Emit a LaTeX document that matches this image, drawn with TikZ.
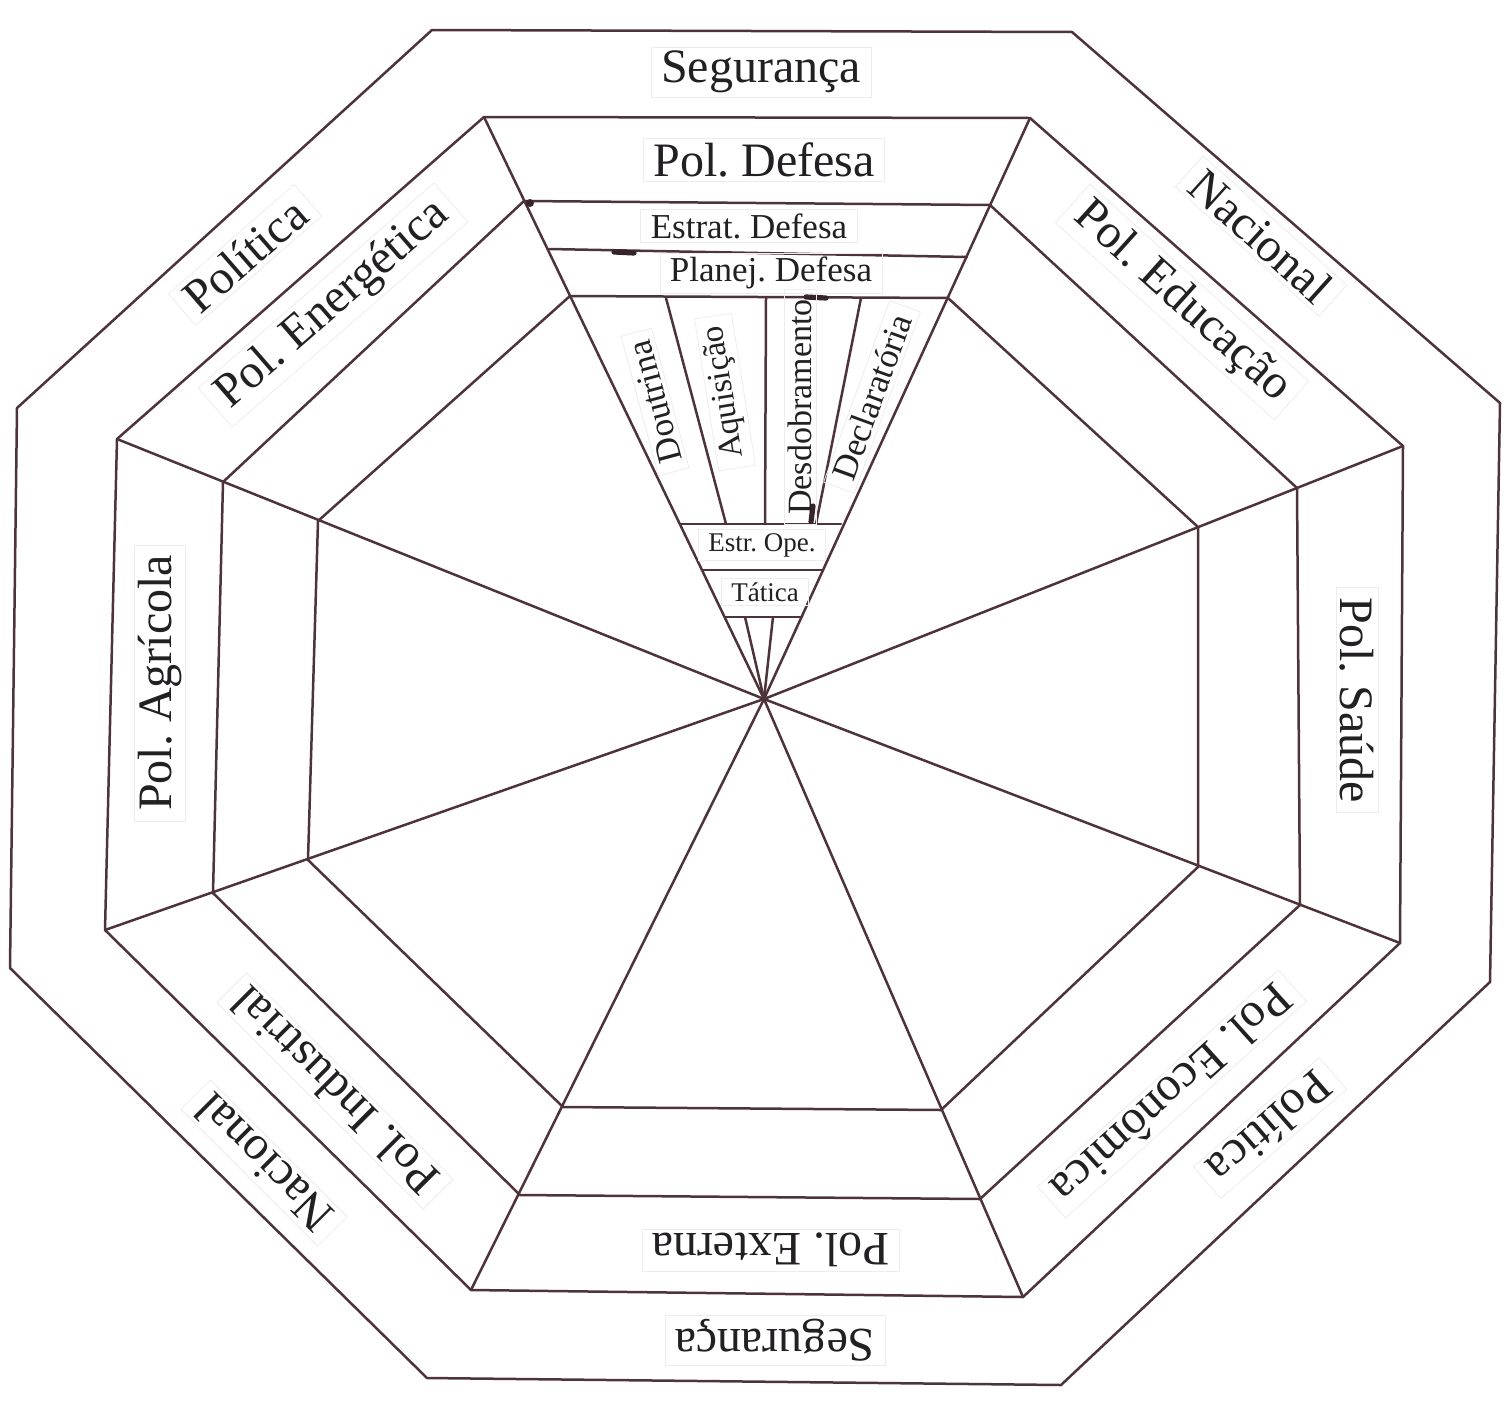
\documentclass[tikz,border=0pt]{standalone}
\usepackage{fontspec}
\setmainfont{Liberation Serif}
\frenchspacing
\usetikzlibrary{calc}
\definecolor{ink}{RGB}{78,52,58}
\definecolor{txt}{RGB}{34,32,34}
\tikzset{
  edge/.style={draw=ink, line width=1.25pt, line join=round, line cap=round},
  penmark/.style={draw=ink!70!black, line width=2.6pt, line cap=round},
  lab/.style={text=txt, draw=black!7, line width=0.4pt, inner xsep=5pt, inner ysep=2pt},
  big/.style={lab, font=\fontsize{24}{28}\selectfont},
  mid/.style={lab, font=\fontsize{17.5}{20}\selectfont},
  sml/.style={lab, font=\fontsize{13.5}{16}\selectfont},
}
\begin{document}
\begin{tikzpicture}[x=0.5pt,y=-0.5pt]
\fill[white] (0,0) rectangle (1510,1403);
\useasboundingbox (0,0) rectangle (1510,1403);
% centre
\coordinate (C) at (764,699);
% outer octagon
\coordinate (O1) at (432,30);   \coordinate (O2) at (1072,32);
\coordinate (O3) at (1500,403); \coordinate (O4) at (1490,982);
\coordinate (O5) at (1061,1385);\coordinate (O6) at (427,1378);
\coordinate (O7) at (10,968);   \coordinate (O8) at (17,408);
% ring 2
\coordinate (A1) at (484,117);  \coordinate (A2) at (1030,118);
\coordinate (A3) at (1403,446); \coordinate (A4) at (1400,943);
\coordinate (A5) at (1023,1297);\coordinate (A6) at (471,1290);
\coordinate (A7) at (105,930);  \coordinate (A8) at (117,439);
% ring 3
\coordinate (B1) at (524,201);  \coordinate (B2) at (990,205);
\coordinate (B3) at (1297,488); \coordinate (B4) at (1300,905);
\coordinate (B5) at (980,1199); \coordinate (B6) at (520,1195);
\coordinate (B7) at (213,893);  \coordinate (B8) at (223,482);
% ring 4
\coordinate (D1) at (570,296);  \coordinate (D2) at (948,298);
\coordinate (D3) at (1198,527); \coordinate (D4) at (1198,867);
\coordinate (D5) at (941,1110); \coordinate (D6) at (563,1107);
\coordinate (D7) at (308,860);  \coordinate (D8) at (318,521);
% wedge inner lines
\coordinate (P1) at (549,249);  \coordinate (P2) at (967,257);
\coordinate (E1) at (681,524);  \coordinate (E2) at (841,524);
\coordinate (F1) at (703,570);  \coordinate (F2) at (823,570);
\coordinate (T1) at (725,617);  \coordinate (T2) at (802,617);
\coordinate (V1a) at (666,298); \coordinate (V1b) at (726,524);
\coordinate (V2a) at (766,298); \coordinate (V2b) at (765,524);
\coordinate (V3a) at (861,298); \coordinate (V3b) at (816,524);
\coordinate (S1) at (745,617);  \coordinate (S2) at (773,617);

% rings
\draw[edge] (O1) -- (O2) -- (O3) -- (O4) -- (O5) -- (O6) -- (O7) -- (O8) -- cycle;
\draw[edge] (A1) -- (A2) -- (A3) -- (A4) -- (A5) -- (A6) -- (A7) -- (A8) -- cycle;
\draw[edge] (B1) -- (B2) -- (B3) -- (B4) -- (B5) -- (B6) -- (B7) -- (B8) -- cycle;
\draw[edge] (D1) -- (D2) -- (D3) -- (D4) -- (D5) -- (D6) -- (D7) -- (D8) -- cycle;
% spokes
\foreach \p in {A1,A2,A3,A4,A5,A6,A7,A8} \draw[edge] (C) -- (\p);
% wedge subdivisions
\draw[edge] (P1) -- (P2);
\draw[edge] (E1) -- (E2);
\draw[edge] (F1) -- (F2);
\draw[edge] (T1) -- (T2);
\draw[edge] (V1a) -- (V1b);
\draw[edge] (V2a) -- (V2b);
\draw[edge] (V3a) -- (V3b);
\draw[edge] (S1) -- (C);
\draw[edge] (S2) -- (C);
% pen marks
\fill[ink!70!black] (530,203) circle (4);
\draw[penmark] (614,252) -- (634,253);
\draw[penmark] (806,297) -- (826,298);
\draw[penmark] (813,506) -- (811,522);

% labels
\node[big] (seg1) at (761,72) {Segurança};
\node[big] (pdef) at (764,160) {Pol. Defesa};
\node[mid] (estd) at (749,226) {Estrat. Defesa};
\node[mid] (plad) at (771,273) {Planej. Defesa};
\node[mid, rotate=105] (dout) at (655,402) {Doutrina};
\node[lab, font=\fontsize{16.5}{19}\selectfont, rotate=99] (aqui) at (725,392) {Aquisição};
\node[lab, font=\fontsize{17}{20}\selectfont, rotate=90] (desd) at (800,407) {Desdobramento};
\node[mid, rotate=70] (decl) at (872,397) {Declaratória};
\node[sml] (eope) at (762,545) {Estr. Ope.};
\node[sml] (tati) at (765,592) {Tática};
\node[big, rotate=41] (pol1) at (245,255) {Política};
\node[big, rotate=41] (pene) at (333,305) {Pol. Energética};
\node[big, rotate=-42] (nac1) at (1261,236) {Nacional};
\node[big, rotate=-42] (pedu) at (1182,302) {Pol. Educação};
\node[big, rotate=90] (pagr) at (160,683) {Pol. Agrícola};
\node[big, rotate=-90] (psau) at (1357,700) {Pol. Saúde};
\node[big, rotate=135] (pind) at (335,1091) {Pol. Industrial};
\node[big, rotate=135] (nac2) at (264,1163) {Nacional};
\node[big, rotate=180] (pext) at (771,1250) {Pol. Externa};
\node[big, rotate=180] (seg2) at (775,1340) {Segurança};
\node[big, rotate=-138] (peco) at (1172,1094) {Pol. Econômica};
\node[big, rotate=-139] (pol2) at (1270,1128) {Política};
\end{tikzpicture}
\end{document}
